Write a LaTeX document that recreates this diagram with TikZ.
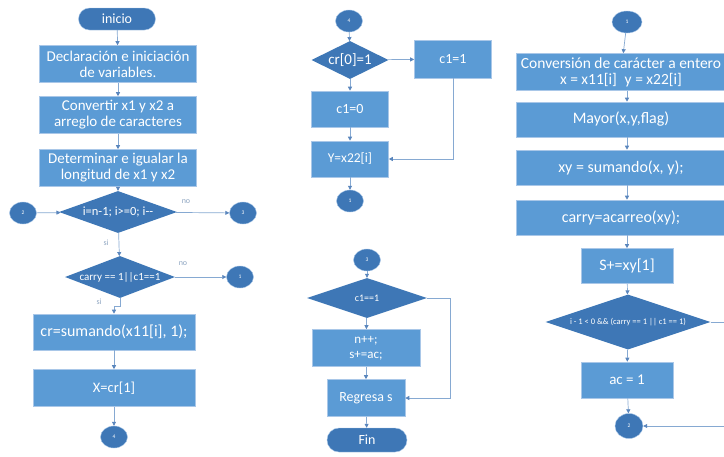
\documentclass[tikz,border=0pt]{standalone}
\usepackage{fontspec}
\setmainfont{Carlito}
\usetikzlibrary{shapes.geometric,shapes.misc,arrows.meta}
\definecolor{boxblue}{HTML}{5B9BD5}
\definecolor{boxedge}{HTML}{A9C7E8}
\definecolor{decblue}{HTML}{3E77B6}
\definecolor{lineblue}{HTML}{86A9D2}
\definecolor{tipblue}{HTML}{5A86BD}
\definecolor{lblgrey}{HTML}{8FA6C2}
\newcommand{\fs}[1]{\fontsize{#1}{16}\selectfont}
\newcommand{\dtext}[1]{\makebox[0pt]{#1}}
\tikzset{
  boxnode/.style={rectangle,fill=boxblue,draw=boxedge,line width=0.6pt,text=white,align=center,inner sep=1pt,font=\fs{15}},
  decnode/.style={diamond,fill=decblue,draw=none,text=white,align=center,inner sep=0pt},
  circnode/.style={ellipse,fill=decblue,draw=boxedge,line width=0.4pt,text=white,minimum width=27pt,minimum height=22pt,inner sep=0pt,font=\fontsize{5.5}{6}\selectfont},
  termnode/.style={rounded rectangle,fill=decblue,draw=boxedge,line width=0.4pt,text=white,inner sep=0pt,font=\fs{14}},
  arr/.style={draw=lineblue,line width=0.7pt,-{Triangle[length=4pt,width=4pt,fill=tipblue,color=tipblue]}},
  lbl/.style={text=lblgrey,font=\fontsize{8}{9}\selectfont,inner sep=0pt}
}
\begin{document}
\begin{tikzpicture}[x=1pt,y=-1pt]
\useasboundingbox (0,0) rectangle (724,456);
\fill[white] (0,0) rectangle (724,456);
% left column
\node[termnode,minimum width=77pt,minimum height=22pt] (ini) at (117,19) {inicio};
\node[boxnode,minimum width=157pt,minimum height=37pt] (b1) at (118,64) {Declaración e iniciación\\de variables.};
\node[boxnode,minimum width=157pt,minimum height=37pt] (b2) at (118,115) {Convertir x1 y x2 a\\arreglo de caracteres};
\node[boxnode,minimum width=157pt,minimum height=37pt] (b3) at (118,168) {Determinar e igualar la\\longitud de x1 y x2};
\node[decnode,minimum width=118pt,minimum height=42pt,font=\fs{12.5}] (d1) at (118,212) {\dtext{i=n-1; i>=0; i-{}-}};
\node[circnode] (c2l) at (23,213) {2};
\node[circnode] (c3l) at (243,213) {3};
\node[decnode,minimum width=110pt,minimum height=42pt,font=\fs{11}] (d2) at (120,277) {\dtext{carry == 1|{}|c1==1}};
\node[circnode] (c1l) at (240,277) {1};
\node[boxnode,minimum width=162pt,minimum height=36pt,font=\fs{16}] (b4) at (114,332) {cr=sumando(x11[i], 1);};
\node[boxnode,minimum width=162pt,minimum height=37pt,font=\fs{14.5}] (b5) at (114,388) {X=cr[1]};
\node[circnode] (c4l) at (114,437) {4};
\draw[arr] (ini) -- (b1);
\draw[arr] (b1) -- (b2);
\draw[arr] (b2) -- (b3);
\draw[arr] (b3) -- (d1);
\draw[arr] (c2l) -- (d1);
\draw[arr] (d1) -- (c3l);
\draw[arr] (d1) -- (d2);
\draw[arr] (d2) -- (c1l);
\draw[arr] (d2.south) -- ++(0,8) -| (b4.north);
\draw[arr] (b4) -- (b5);
\draw[arr] (b5) -- (c4l);
\node[lbl] (no1) at (186,202) {no};
\node[lbl] (si1) at (106,243) {si};
\node[lbl] (no2) at (183,264) {no};
\node[lbl] (si2) at (99,302) {si};
% middle top
\node[circnode] (c4m) at (349,21) {4};
\node[decnode,minimum width=77pt,minimum height=38pt,font=\fs{15}] (d3) at (350,60) {\dtext{cr[0]=1}};
\node[boxnode,minimum width=77pt,minimum height=38pt,font=\fs{14}] (b6) at (453,59) {c1=1};
\node[boxnode,minimum width=77pt,minimum height=36pt,font=\fs{14}] (b7) at (350,109) {c1=0};
\node[boxnode,minimum width=77pt,minimum height=36pt,font=\fs{13.5}] (b8) at (350,159) {Y=x22[i]};
\node[circnode] (c1m) at (350,201) {1};
\draw[arr] (c4m) -- (d3);
\draw[arr] (d3) -- (b6);
\draw[arr] (d3) -- (b7);
\draw[arr] (b7) -- (b8);
\draw[arr] (b6.south) |- (b8.east);
\draw[arr] (b8) -- (c1m);
% middle bottom
\node[circnode] (c3m) at (367,260) {3};
\node[decnode,minimum width=120pt,minimum height=40pt,font=\fs{10}] (d4) at (367,298) {\dtext{c1==1}};
\node[boxnode,minimum width=108pt,minimum height=37pt,font=\fontsize{13}{15}\selectfont] (b9) at (366,348) {n++;\\s+=ac;};
\node[boxnode,minimum width=78pt,minimum height=37pt,font=\fs{14}] (b10) at (366,398) {Regresa s};
\node[termnode,minimum width=80pt,minimum height=24pt] (fin) at (367,440) {Fin};
\draw[arr] (c3m) -- (d4);
\draw[arr] (d4) -- (b9);
\draw[arr] (b9) -- (b10);
\draw[arr] (b10) -- (fin);
\coordinate (k1) at (450,298);
\draw[arr] (d4.east) -- (k1) |- (b10.east);
% right column
\node[circnode,minimum width=30pt] (c1r) at (627,22) {1};
\node[boxnode,minimum width=210pt,minimum height=37pt,font=\fs{15.5}] (r1) at (621,72) {Conversión de carácter a entero\\x = x11[i]\enspace y = x22[i]};
\node[boxnode,minimum width=210pt,minimum height=35pt,font=\fs{16}] (r2) at (621,119.5) {Mayor(x,y,flag)};
\node[boxnode,minimum width=210pt,minimum height=35pt,font=\fs{16}] (r3) at (621,167.5) {xy = sumando(x, y);};
\node[boxnode,minimum width=210pt,minimum height=35pt,font=\fs{16}] (r4) at (621,217.5) {carry=acarreo(xy);};
\node[boxnode,minimum width=92pt,minimum height=35pt,font=\fs{16}] (r5) at (627,266) {S+=xy[1]};
\node[decnode,minimum width=165pt,minimum height=55pt,font=\fs{8.5}] (d5) at (628,322) {\dtext{i - 1 < 0 \&\& (carry == 1 |{}| c1 == 1)}};
\node[boxnode,minimum width=92pt,minimum height=36pt,font=\fs{15}] (r6) at (627,380) {ac = 1};
\node[circnode,minimum width=28pt,minimum height=25pt] (c2r) at (629,426) {2};
\draw[arr] (c1r) -- (r1);
\draw[arr] (r1.south -| c1r) -- (r2.north -| c1r);
\draw[arr] (r2.south -| c1r) -- (r3.north -| c1r);
\draw[arr] (r3.south -| c1r) -- (r4.north -| c1r);
\draw[arr] (r4.south -| r5) -- (r5.north);
\draw[arr] (r5) -- (d5);
\draw[arr] (d5) -- (r6);
\draw[arr] (r6) -- (c2r);
\coordinate (k2) at (730,322);
\draw[arr] (d5.east) -- (k2) |- (c2r.east);
\end{tikzpicture}
\end{document}
